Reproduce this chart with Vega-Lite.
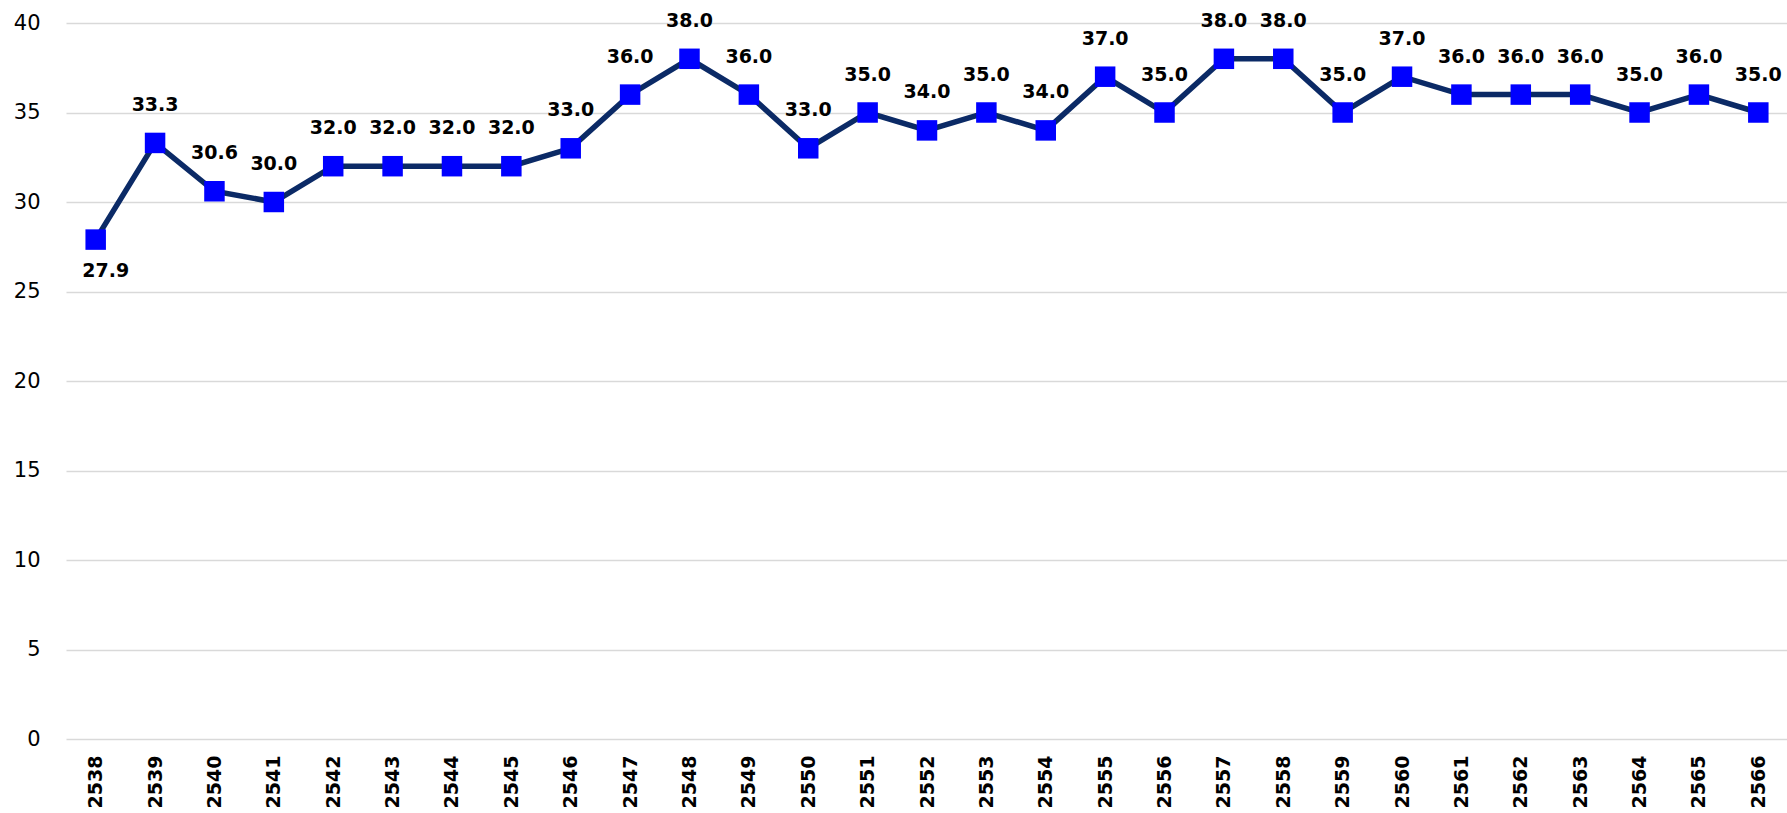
{
  "$schema": "https://vega.github.io/schema/vega-lite/v6.json",
  "width": 1722,
  "height": 716,
  "autosize": {"type": "none"},
  "padding": {"left": 66, "top": 23, "right": 0, "bottom": 74},
  "background": "white",
  "config": {"view": {"stroke": null}, "font": "DejaVu Sans"},
  "data": {"values": [
    {"year": "2538", "value": 27.9},
    {"year": "2539", "value": 33.3},
    {"year": "2540", "value": 30.6},
    {"year": "2541", "value": 30.0},
    {"year": "2542", "value": 32.0},
    {"year": "2543", "value": 32.0},
    {"year": "2544", "value": 32.0},
    {"year": "2545", "value": 32.0},
    {"year": "2546", "value": 33.0},
    {"year": "2547", "value": 36.0},
    {"year": "2548", "value": 38.0},
    {"year": "2549", "value": 36.0},
    {"year": "2550", "value": 33.0},
    {"year": "2551", "value": 35.0},
    {"year": "2552", "value": 34.0},
    {"year": "2553", "value": 35.0},
    {"year": "2554", "value": 34.0},
    {"year": "2555", "value": 37.0},
    {"year": "2556", "value": 35.0},
    {"year": "2557", "value": 38.0},
    {"year": "2558", "value": 38.0},
    {"year": "2559", "value": 35.0},
    {"year": "2560", "value": 37.0},
    {"year": "2561", "value": 36.0},
    {"year": "2562", "value": 36.0},
    {"year": "2563", "value": 36.0},
    {"year": "2564", "value": 35.0},
    {"year": "2565", "value": 36.0},
    {"year": "2566", "value": 35.0}
  ]},
  "encoding": {
    "x": {
      "field": "year", "type": "ordinal",
      "scale": {"type": "point", "padding": 0.5},
      "axis": {
        "title": null, "labelAngle": -90, "labelFontSize": 19, "labelFontWeight": "bold",
        "labelColor": "#000000", "labelPadding": 16, "ticks": false, "domain": false, "grid": false
      }
    },
    "y": {
      "field": "value", "type": "quantitative",
      "scale": {"domain": [0, 40], "nice": false, "zero": true},
      "axis": {
        "title": null, "values": [0, 5, 10, 15, 20, 25, 30, 35, 40],
        "labelFontSize": 21, "labelColor": "#000000", "labelPadding": 26,
        "ticks": false, "domain": false, "grid": true, "gridColor": "#d9d9d9", "gridWidth": 1.5
      }
    }
  },
  "layer": [
    {"mark": {"type": "line", "color": "#0b2a66", "strokeWidth": 5.5}},
    {"mark": {"type": "point", "shape": "square", "filled": true, "color": "#0000ff", "size": 420, "opacity": 1}},
    {
      "transform": [{"filter": "datum.year != '2538'"}],
      "mark": {"type": "text", "dy": -38, "fontSize": 19, "fontWeight": "bold", "color": "#000000"},
      "encoding": {"text": {"field": "value", "type": "quantitative", "format": ".1f"}}
    },
    {
      "transform": [{"filter": "datum.year == '2538'"}],
      "mark": {"type": "text", "dy": 31, "dx": 10, "fontSize": 19, "fontWeight": "bold", "color": "#000000"},
      "encoding": {"text": {"field": "value", "type": "quantitative", "format": ".1f"}}
    }
  ]
}
